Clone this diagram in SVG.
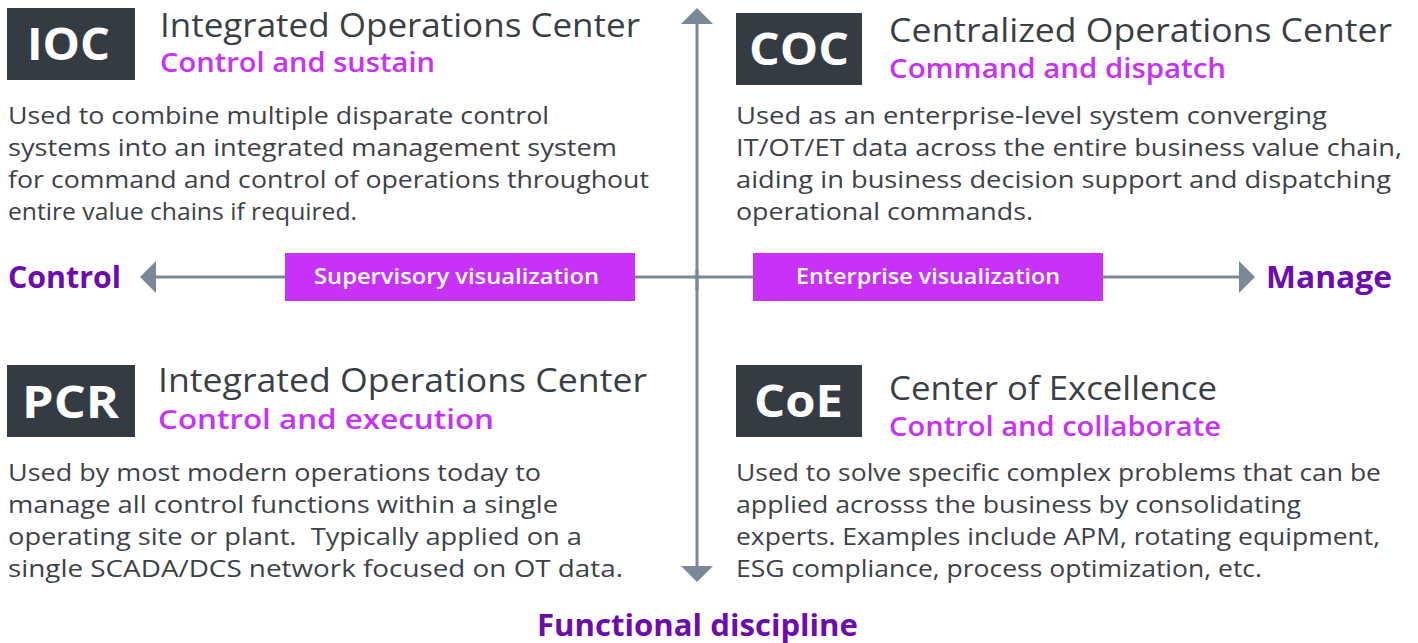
<svg xmlns="http://www.w3.org/2000/svg" width="1418" height="643" viewBox="0 0 1418 643">
<defs>
<style>
text{font-family:"Open Sans","Noto Sans",sans-serif}
.box{fill:#353b42}
.abbr{fill:#ffffff;font-size:44px;font-weight:700}
.title{fill:#3a3f46;font-size:32px;font-weight:400}
.sub{fill:#c832f8;font-size:27px;font-weight:600}
.body{fill:#3d4248;font-size:24px;font-weight:400}
.axis{stroke:#7b8898;stroke-width:3;fill:none}
.tag{fill:#c832f8}
.tagt{fill:#ffffff;font-size:22px;font-weight:600}
.pole{fill:#6c0cae;font-size:31px;font-weight:700}
</style>
<marker id="ah" viewBox="0 0 16 32" refX="0" refY="16" markerWidth="16" markerHeight="32" orient="auto" markerUnits="userSpaceOnUse">
<path d="M0,0 L16,16 L0,32 Z" fill="#7b8898"/>
</marker>
</defs>
<rect width="1418" height="643" fill="#ffffff"/>
<g id="connectors">
<line class="axis" x1="697" y1="290" x2="697" y2="24" marker-end="url(#ah)"/>
<line class="axis" x1="697" y1="270" x2="697" y2="566" marker-end="url(#ah)"/>
<line class="axis" x1="700" y1="277" x2="156" y2="277" marker-end="url(#ah)"/>
<line class="axis" x1="694" y1="277" x2="1239" y2="277" marker-end="url(#ah)"/>
</g>
<g id="tag-supervisory">
<rect class="tag" x="285" y="253" width="350" height="48"/>
<text class="tagt" x="314" y="284" textLength="285" lengthAdjust="spacingAndGlyphs">Supervisory visualization</text>
</g>
<g id="tag-enterprise">
<rect class="tag" x="753" y="253" width="350" height="48"/>
<text class="tagt" x="796" y="284" textLength="264" lengthAdjust="spacingAndGlyphs">Enterprise visualization</text>
</g>
<g id="pole-control"><text class="pole" x="8" y="288" textLength="113" lengthAdjust="spacingAndGlyphs">Control</text></g>
<g id="pole-manage"><text class="pole" x="1266" y="288" textLength="126" lengthAdjust="spacingAndGlyphs">Manage</text></g>
<g id="pole-functional"><text class="pole" x="537" y="636" textLength="321" lengthAdjust="spacingAndGlyphs">Functional discipline</text></g>
<g id="ioc">
<rect class="box" x="7" y="8" width="128" height="72"/>
<text class="abbr" x="27" y="60" textLength="83" lengthAdjust="spacingAndGlyphs">IOC</text>
<text class="title" x="160" y="37" textLength="480" lengthAdjust="spacingAndGlyphs">Integrated Operations Center</text>
<text class="sub" x="160" y="72" textLength="275" lengthAdjust="spacingAndGlyphs">Control and sustain</text>
<text class="body" x="8" y="124" textLength="541" lengthAdjust="spacingAndGlyphs">Used to combine multiple disparate control</text>
<text class="body" x="8" y="156" textLength="609" lengthAdjust="spacingAndGlyphs">systems into an integrated management system</text>
<text class="body" x="8" y="188" textLength="641" lengthAdjust="spacingAndGlyphs">for command and control of operations throughout</text>
<text class="body" x="8" y="220" textLength="349" lengthAdjust="spacingAndGlyphs">entire value chains if required.</text>
</g>
<g id="coc">
<rect class="box" x="736" y="13" width="126" height="72"/>
<text class="abbr" x="749" y="65" textLength="100" lengthAdjust="spacingAndGlyphs">COC</text>
<text class="title" x="889" y="42" textLength="503" lengthAdjust="spacingAndGlyphs">Centralized Operations Center</text>
<text class="sub" x="889" y="78" textLength="337" lengthAdjust="spacingAndGlyphs">Command and dispatch</text>
<text class="body" x="736" y="124" textLength="591" lengthAdjust="spacingAndGlyphs">Used as an enterprise-level system converging</text>
<text class="body" x="736" y="156" textLength="666" lengthAdjust="spacingAndGlyphs">IT/OT/ET data across the entire business value chain,</text>
<text class="body" x="736" y="188" textLength="655" lengthAdjust="spacingAndGlyphs">aiding in business decision support and dispatching</text>
<text class="body" x="736" y="220" textLength="297" lengthAdjust="spacingAndGlyphs">operational commands.</text>
</g>
<g id="pcr">
<rect class="box" x="7" y="365" width="128" height="72"/>
<text class="abbr" x="22" y="418" textLength="97" lengthAdjust="spacingAndGlyphs">PCR</text>
<text class="title" x="158" y="392" textLength="489" lengthAdjust="spacingAndGlyphs">Integrated Operations Center</text>
<text class="sub" x="158" y="429" textLength="336" lengthAdjust="spacingAndGlyphs">Control and execution</text>
<text class="body" x="8" y="481" textLength="533" lengthAdjust="spacingAndGlyphs">Used by most modern operations today to</text>
<text class="body" x="8" y="513" textLength="550" lengthAdjust="spacingAndGlyphs">manage all control functions within a single</text>
<text class="body" x="8" y="545" textLength="574" lengthAdjust="spacingAndGlyphs" xml:space="preserve">operating site or plant.  Typically applied on a</text>
<text class="body" x="8" y="577" textLength="615" lengthAdjust="spacingAndGlyphs">single SCADA/DCS network focused on OT data.</text>
</g>
<g id="coe">
<rect class="box" x="736" y="365" width="126" height="72"/>
<text class="abbr" x="754" y="417" textLength="89" lengthAdjust="spacingAndGlyphs">CoE</text>
<text class="title" x="889" y="400" textLength="328" lengthAdjust="spacingAndGlyphs">Center of Excellence</text>
<text class="sub" x="889" y="436" textLength="332" lengthAdjust="spacingAndGlyphs">Control and collaborate</text>
<text class="body" x="736" y="481" textLength="645" lengthAdjust="spacingAndGlyphs">Used to solve specific complex problems that can be</text>
<text class="body" x="736" y="513" textLength="565" lengthAdjust="spacingAndGlyphs">applied acrosss the business by consolidating</text>
<text class="body" x="736" y="545" textLength="644" lengthAdjust="spacingAndGlyphs">experts. Examples include APM, rotating equipment,</text>
<text class="body" x="736" y="577" textLength="526" lengthAdjust="spacingAndGlyphs">ESG compliance, process optimization, etc.</text>
</g>
</svg>
